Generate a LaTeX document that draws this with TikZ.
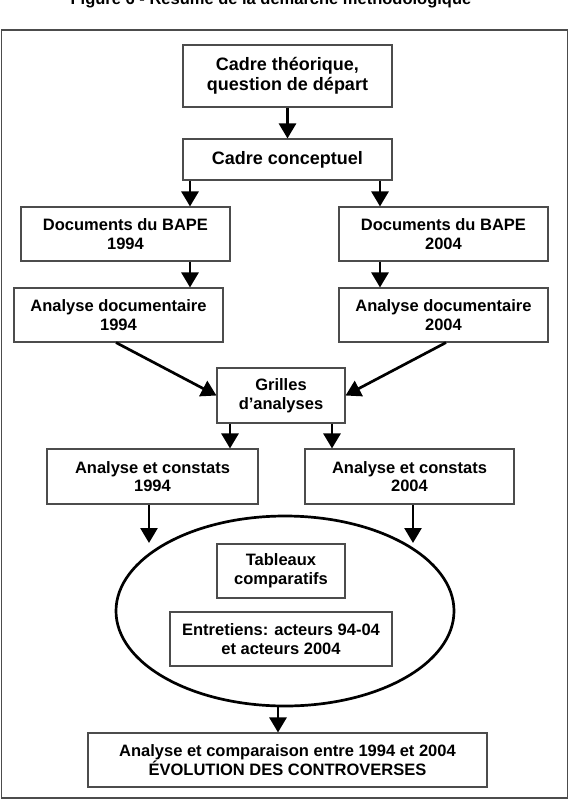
\documentclass[tikz,border=0pt]{standalone}
\usepackage{fontspec}
\setmainfont{Liberation Sans}
\usetikzlibrary{arrows.meta, shapes.geometric}
\tikzset{
    box/.style={draw=black!70, line width=1.1pt, align=center, inner sep=0pt,
        font=\fontsize{16.5}{18.7}\selectfont\bfseries},
    bigbox/.style={box, font=\fontsize{18}{20}\selectfont\bfseries},
    flow/.style={line width=2.7pt, -{Triangle[width=17pt,length=15pt]}},
}

\begin{document}
\begin{tikzpicture}[x=1pt, y=-1pt]
    \useasboundingbox (0,0) rectangle (570,807);
    % titre, coupe par le bord
    \node[anchor=base, inner sep=0pt, font=\fontsize{16.5}{19}\selectfont\bfseries] (titre) at (271,4.5)
        {Figure 6 - Résumé de la démarche méthodologique};
    \draw[draw=black!70, line width=1.4pt] (1.5,30) rectangle (567.5,798);

    \node[bigbox, minimum width=209pt, minimum height=62pt] (theo) at (287.5,76) {Cadre théorique,\\question de départ};
    \node[bigbox, minimum width=209pt, minimum height=41pt] (conc) at (287.5,159.5) {Cadre conceptuel};
    \node[box, minimum width=209pt, minimum height=54pt] (doc94) at (125.5,234) {Documents du BAPE\\1994};
    \node[box, minimum width=209pt, minimum height=54pt] (doc04) at (443.5,234) {Documents du BAPE\\2004};
    \node[box, minimum width=209pt, minimum height=54pt] (ana94) at (118.5,315) {Analyse documentaire\\1994};
    \node[box, minimum width=209pt, minimum height=54pt] (ana04) at (443.5,315) {Analyse documentaire\\2004};
    \node[box, minimum width=128pt, minimum height=55pt] (grille) at (281,395.5) {Grilles\\d’analyses};
    \node[box, minimum width=211pt, minimum height=55pt] (cst94) at (152.5,476.5) {Analyse et constats\\1994};
    \node[box, minimum width=209pt, minimum height=55pt] (cst04) at (409.5,476.5) {Analyse et constats\\2004};
    \node[draw, ellipse, line width=2.7pt, inner sep=0pt, minimum width=338pt, minimum height=190pt] (ell) at (285,611) {};
    \node[box, minimum width=128pt, minimum height=54pt] (tab) at (281,571) {Tableaux\\comparatifs};
    \node[box, minimum width=222pt, minimum height=54pt] (entr) at (281,639) {Entretiens: acteurs 94-04\\et acteurs 2004};
    \node[box, minimum width=399pt, minimum height=54pt] (synth) at (287.5,760) {Analyse et comparaison entre 1994 et 2004\\ÉVOLUTION DES CONTROVERSES};

    \coordinate (xl) at (190,0);
    \coordinate (xr) at (380,0);
    \coordinate (gl) at (230,0);
    \coordinate (gr) at (332,0);
    \coordinate (e94) at (149,543);
    \coordinate (e04) at (413,543);
    \draw[flow] (theo.south) -- (conc.north);
    \draw[flow] (conc.south -| xl) -- (doc94.north -| xl);
    \draw[flow] (conc.south -| xr) -- (doc04.north -| xr);
    \draw[flow] (doc94.south -| xl) -- (ana94.north -| xl);
    \draw[flow] (doc04.south -| xr) -- (ana04.north -| xr);
    \draw[flow] ([xshift=-2.5pt]ana94.south) -- (grille.west);
    \draw[flow] ([xshift=2.5pt]ana04.south) -- (grille.east);
    \draw[flow] (grille.south -| gl) -- (cst94.north -| gl);
    \draw[flow] (grille.south -| gr) -- (cst04.north -| gr);
    \draw[flow] (cst94.south -| e94) -- (e94);
    \draw[flow] (cst04.south -| e04) -- (e04);
    \draw[flow] ([xshift=-7pt]ell.south) -- ([xshift=-7pt]ell.south |- synth.north);
\end{tikzpicture}
\end{document}
